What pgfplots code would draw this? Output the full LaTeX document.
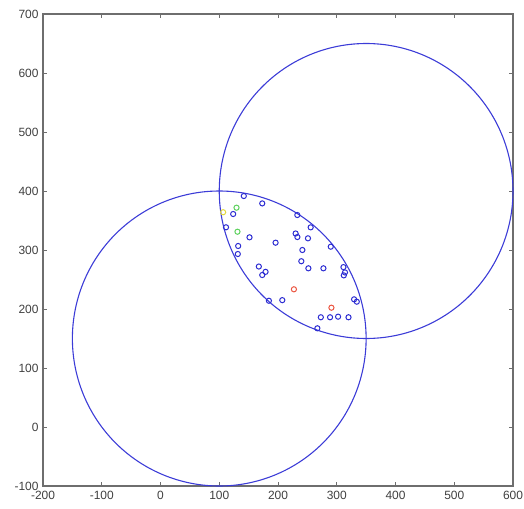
\documentclass[border=0pt]{standalone}
\usepackage{pgfplots}
\pgfplotsset{compat=1.18}
\usepackage{fontspec}
\setmainfont{Liberation Sans}

\definecolor{ringblue}{RGB}{60,60,215}
\definecolor{ptblue}{RGB}{45,45,210}
\definecolor{ptred}{RGB}{235,85,65}
\definecolor{ptgreen}{RGB}{95,210,95}
\definecolor{ptyellow}{RGB}{225,215,60}
\definecolor{framegray}{RGB}{110,110,110}

\begin{document}
\begin{tikzpicture}
\begin{axis}[
  scale only axis,
  width=470bp, height=472bp,
  xmin=-200, xmax=600, ymin=-100, ymax=700,
  xtick={-200,-100,...,600},
  ytick={-100,0,...,700},
  tick align=inside,
  major tick length=4bp,
  axis line style={framegray, line width=1.2pt},
  every tick/.style={framegray, line width=0.9pt},
  tick label style={font=\fontsize{12}{14}\selectfont, text=black!75},
  /pgf/number format/assume math mode=true,
  xticklabel style={yshift=-2bp},
  yticklabel style={xshift=-1bp},
  clip=false,
]
% two circles, centre (100,150) and (350,400), radius 250
\addplot[ringblue, line width=1.1pt, domain=0:360, samples=240, variable=\t]
  ({100+250*cos(\t)}, {150+250*sin(\t)});
\addplot[ringblue, line width=1.1pt, domain=0:360, samples=240, variable=\t]
  ({350+250*cos(\t)}, {400+250*sin(\t)});

% points inside the overlap
\addplot[only marks, mark=o, mark size=2.6pt, ptblue, mark options={line width=1pt}]
coordinates {
(141.8,391.5) (173.2,379) (123.7,361) (111.5,338.5) (151.5,321.5)
(195.9,312.4) (132.2,306.8) (131.6,293.2) (167.4,272) (178.8,263)
(173.2,257.6) (184.5,214) (207.3,215) (232.9,359.3) (255.6,338.4)
(230,328) (233,322) (251,319.8) (289.8,305.6) (241.5,300)
(239.7,281) (251.7,269) (277.3,269) (311.4,271) (314,262)
(312,257) (329.5,216.4) (334.1,212.4) (272.9,186) (288.6,186)
(302.3,187) (320,186) (267,167.3)
};
\addplot[only marks, mark=o, mark size=2.6pt, ptred, mark options={line width=1pt}]
coordinates {(227.1,233.4) (290.9,202.2)};
\addplot[only marks, mark=o, mark size=2.6pt, ptgreen, mark options={line width=1pt}]
coordinates {(129.4,371.7) (131,331)};
\addplot[only marks, mark=o, mark size=2.6pt, ptyellow, mark options={line width=1pt}]
coordinates {(106.6,364)};
\end{axis}
\pgfresetboundingbox
\path[use as bounding box]
  ([xshift=-43bp,yshift=-22bp]current axis.south west)
  rectangle ([xshift=11bp,yshift=14bp]current axis.north east);
\end{tikzpicture}
\end{document}
